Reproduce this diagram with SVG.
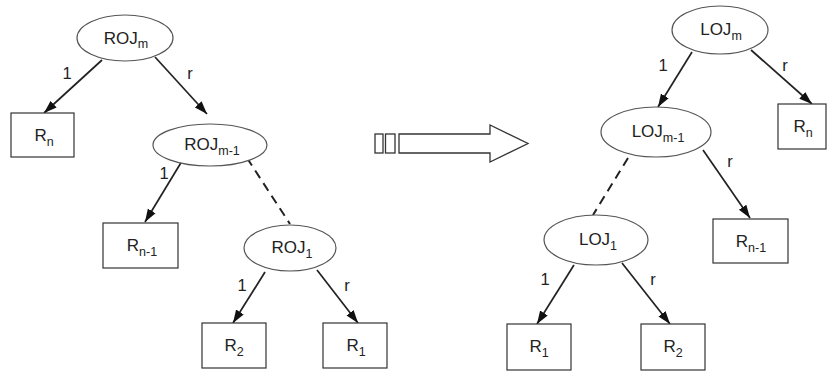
<svg xmlns="http://www.w3.org/2000/svg" width="833" height="374" viewBox="0 0 833 374">
<style>
.ell{fill:#fff;stroke:#555;stroke-width:1.2}
.box{fill:#fff;stroke:#333;stroke-width:1.2}
.t{font-family:"Liberation Sans",Arial,sans-serif;font-size:17px;fill:#222;text-anchor:middle}
.s{font-size:12.5px}
.lbl{font-family:"Liberation Sans",Arial,sans-serif;font-size:16.5px;fill:#222;text-anchor:middle}
.e{stroke:#222;stroke-width:1.7;fill:none}
.a{marker-end:url(#ah)}
.d{stroke-dasharray:9,6;stroke-width:2}
</style>
<defs>
<marker id="ah" markerUnits="userSpaceOnUse" markerWidth="14" markerHeight="11" refX="13" refY="5.5" orient="auto">
<path d="M0,1 L13,5.5 L0,10 z" fill="#111"/>
</marker>
</defs>
<g id="connectors">
<line class="e a" x1="102" y1="60" x2="44" y2="113"/>
<line class="e a" x1="155" y1="57" x2="207" y2="114"/>
<line class="e a" x1="182" y1="161" x2="145" y2="222"/>
<line class="e d" x1="247" y1="158" x2="290" y2="224"/>
<line class="e a" x1="265" y1="272" x2="233" y2="323"/>
<line class="e a" x1="317" y1="270" x2="358" y2="323"/>
<line class="e a" x1="692" y1="52" x2="658" y2="107"/>
<line class="e a" x1="751" y1="50" x2="812" y2="104"/>
<line class="e d" x1="628" y1="158" x2="593" y2="215"/>
<line class="e a" x1="703" y1="150" x2="750" y2="218"/>
<line class="e a" x1="574" y1="265" x2="537" y2="324"/>
<line class="e a" x1="622" y1="263" x2="670" y2="324"/>
<text class="lbl" x="67" y="79">1</text>
<text class="lbl" x="190" y="79">r</text>
<text class="lbl" x="164" y="179">1</text>
<text class="lbl" x="242" y="291">1</text>
<text class="lbl" x="347" y="291">r</text>
<text class="lbl" x="663" y="71">1</text>
<text class="lbl" x="785" y="71">r</text>
<text class="lbl" x="730" y="167">r</text>
<text class="lbl" x="545" y="285">1</text>
<text class="lbl" x="653" y="285">r</text>
</g>
<g id="transform-arrow" fill="#fff" stroke="#333" stroke-width="1.3">
<rect x="375" y="134" width="8" height="19"/>
<rect x="385.5" y="134" width="9.5" height="19"/>
<path d="M399,134 L490,134 L490,125 L528,143.5 L490,162 L490,153 L399,153 z"/>
</g>
<g id="ROJm"><ellipse class="ell" cx="125" cy="38" rx="48" ry="23"/><text class="t" x="126" y="44">ROJ<tspan class="s" dy="4">m</tspan></text></g>
<g id="Rn-left"><rect class="box" x="11" y="113" width="63" height="44"/><text class="t" x="44" y="141">R<tspan class="s" dy="5">n</tspan></text></g>
<g id="ROJm-1"><ellipse class="ell" cx="210" cy="145" rx="57" ry="21"/><text class="t" x="212" y="150">ROJ<tspan class="s" dy="5">m-1</tspan></text></g>
<g id="Rn-1-left"><rect class="box" x="103" y="223" width="75" height="45"/><text class="t" x="142" y="251">R<tspan class="s" dy="5">n-1</tspan></text></g>
<g id="ROJ1"><ellipse class="ell" cx="290" cy="248" rx="46" ry="23"/><text class="t" x="292" y="253">ROJ<tspan class="s" dy="5">1</tspan></text></g>
<g id="R2-left"><rect class="box" x="202" y="323" width="64" height="45"/><text class="t" x="234" y="351">R<tspan class="s" dy="5">2</tspan></text></g>
<g id="R1-left"><rect class="box" x="323" y="323" width="64" height="45"/><text class="t" x="356" y="351">R<tspan class="s" dy="5">1</tspan></text></g>
<g id="LOJm"><ellipse class="ell" cx="720" cy="30" rx="48" ry="24"/><text class="t" x="721" y="35">LOJ<tspan class="s" dy="5">m</tspan></text></g>
<g id="Rn-right"><rect class="box" x="778" y="104" width="48" height="45"/><text class="t" x="803" y="132">R<tspan class="s" dy="5">n</tspan></text></g>
<g id="LOJm-1"><ellipse class="ell" cx="656" cy="132" rx="55" ry="25"/><text class="t" x="658" y="137">LOJ<tspan class="s" dy="5">m-1</tspan></text></g>
<g id="Rn-1-right"><rect class="box" x="713" y="219" width="75" height="44"/><text class="t" x="751" y="247">R<tspan class="s" dy="5">n-1</tspan></text></g>
<g id="LOJ1"><ellipse class="ell" cx="596" cy="240" rx="52" ry="25"/><text class="t" x="598" y="245">LOJ<tspan class="s" dy="5">1</tspan></text></g>
<g id="R1-right"><rect class="box" x="507" y="324" width="64" height="46"/><text class="t" x="539" y="352">R<tspan class="s" dy="5">1</tspan></text></g>
<g id="R2-right"><rect class="box" x="641" y="324" width="64" height="46"/><text class="t" x="673" y="352">R<tspan class="s" dy="5">2</tspan></text></g>
</svg>
